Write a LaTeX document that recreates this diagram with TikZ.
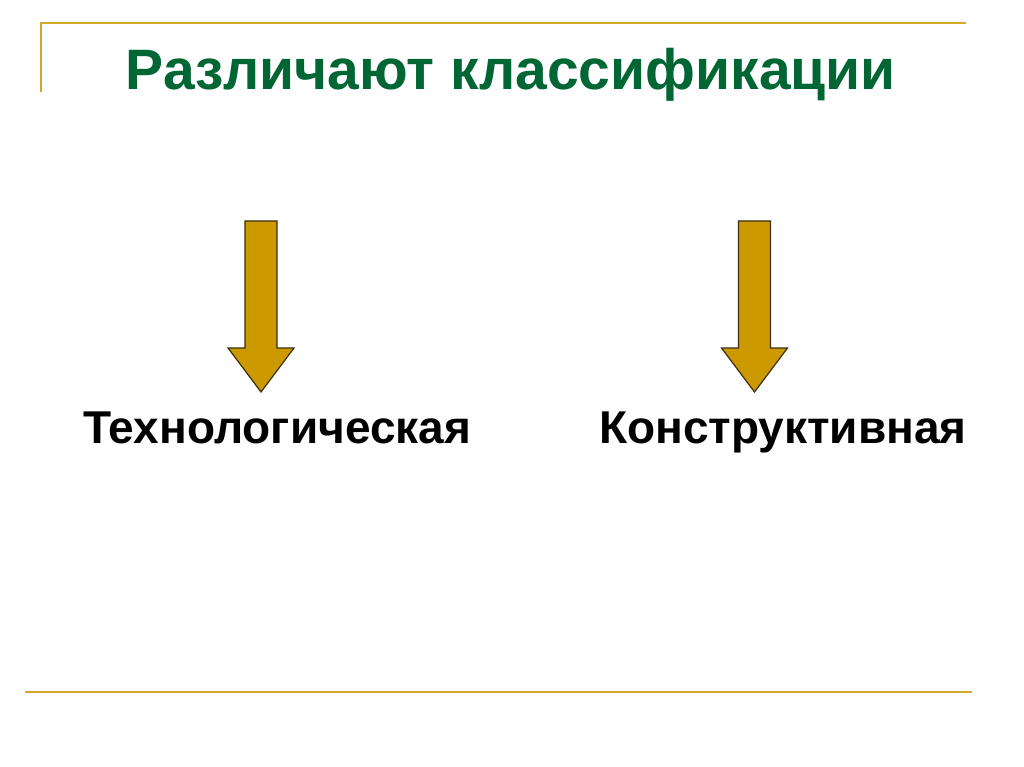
\documentclass[tikz,border=0pt]{standalone}
\usepackage{fontspec}
\setmainfont{Liberation Sans}
\usetikzlibrary{positioning}
\definecolor{titlegreen}{HTML}{006633}
\definecolor{gold}{HTML}{CC9900}
\definecolor{rulegold}{HTML}{D4A82A}
\definecolor{arrowedge}{HTML}{3A2E08}
\tikzset{
	x=1pt, y=-1pt,
	title/.style={anchor=base, text=titlegreen, font=\bfseries\fontsize{57}{60}\selectfont},
	kind/.style={anchor=base, font=\bfseries\fontsize{46}{50}\selectfont},
	rule/.style={draw=rulegold, line width=2pt},
	fatarrow/.style={fill=gold, draw=arrowedge, line width=1.2pt, line join=miter}}

\begin{document}
\begin{tikzpicture}
		\useasboundingbox[fill=white] (0,0) rectangle (1024,767);
		
		% frame lines
		\draw[rule] (41,92) -- (41,23) -- (966,23);
		\draw[rule] (25,692) -- (972,692);
		
		\node[title] (head) at (511,90) {Различают классификации};
		\node[kind] (tech) at (277,443) {Технологическая};
		\node[kind] (cons) at (783,443) {Конструктивная};
		
		% arrows
		\foreach \c in {261,754.5}
		\draw[fatarrow] (\c-16,221) -- (\c+16,221) -- (\c+16,348) -- (\c+33,348)
			-- (\c,392) -- (\c-33,348) -- (\c-16,348) -- cycle;
	\end{tikzpicture}
\end{document}
